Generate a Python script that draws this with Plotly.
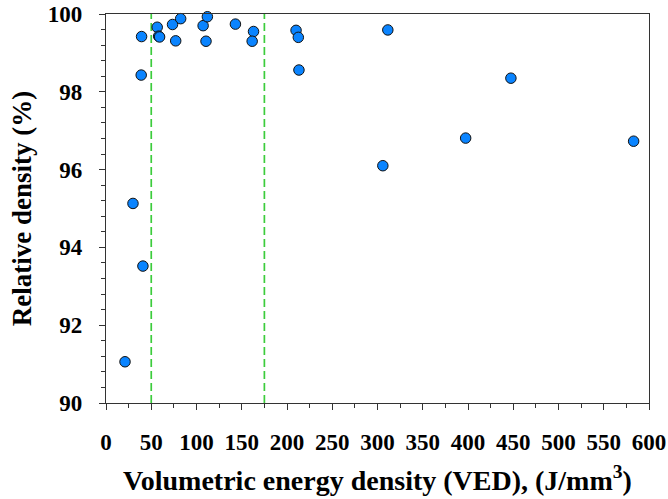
import plotly.graph_objects as go

# Volumetric energy density (J/mm^3) and measured relative density (%)
ved = [21, 29.8, 38.9, 39.3, 40.8, 56.6, 58.2, 59.2, 73.5, 82.5, 77.0,
       107.3, 112.0, 110.5, 143.0, 163.0, 161.5, 210.0, 212.5, 213.2,
       305.9, 311.4, 397.4, 447.4, 583.0]
rel_density = [91.06, 95.13, 98.43, 99.42, 93.52, 99.66, 99.43, 99.41, 99.73,
               99.88, 99.31, 99.70, 99.93, 99.30, 99.74, 99.55, 99.30, 99.58,
               99.40, 98.56, 96.10, 99.59, 96.81, 98.35, 96.73]

# Process window boundaries
window_bounds = [50, 175]

x_ticks = list(range(0, 601, 50))
y_ticks = [90, 92, 94, 96, 98, 100]

serif = "Times New Roman, Liberation Serif, serif"

fig = go.Figure()

for xb in window_bounds:
    fig.add_trace(go.Scatter(
        x=[xb, xb], y=[90, 100], mode="lines",
        line=dict(color="#3ccc3c", width=1.7, dash="8px,4px"),
        hoverinfo="skip", showlegend=False,
    ))

fig.add_trace(go.Scatter(
    x=ved, y=rel_density, mode="markers",
    marker=dict(size=10.5, color="#0a84ff", line=dict(color="#111111", width=1)),
    cliponaxis=False, showlegend=False,
))

axis_common = dict(
    showgrid=False, zeroline=False, showline=True, linecolor="#333333",
    linewidth=1.2, mirror=True, ticks="outside", ticklen=6, tickwidth=1,
    tickcolor="#333333", automargin=False,
    tickfont=dict(family=serif, size=23, color="black", weight="bold"),
)

fig.update_xaxes(
    range=[0, 600], tickvals=x_ticks, ticklabelstandoff=12,
    minor=dict(dtick=25, ticks="outside", ticklen=4, tickcolor="#333333"),
    title=dict(text="Volumetric energy density (VED), (J/mm<sup>3</sup>)",
               font=dict(family=serif, size=28, color="black", weight="bold"),
               standoff=16),
    **axis_common,
)
fig.update_yaxes(
    range=[90, 100], tickvals=y_ticks, ticklabelstandoff=12,
    minor=dict(dtick=0.4, ticks="outside", ticklen=4, tickcolor="#333333"),
    title=dict(text="Relative density (%)",
               font=dict(family=serif, size=27, color="black", weight="bold"),
               standoff=8),
    **axis_common,
)

fig.update_layout(
    width=668, height=499,
    margin=dict(l=106, r=19, t=14, b=96),
    plot_bgcolor="white", paper_bgcolor="white",
)

fig.write_html("out.html")
